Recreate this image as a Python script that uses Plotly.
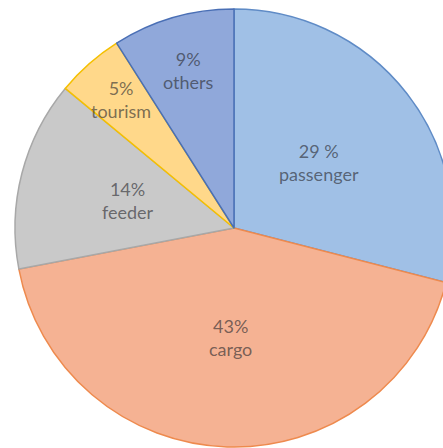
import math
import plotly.graph_objects as go

categories = ["passenger", "cargo", "feeder", "tourism", "others"]
values = [29, 43, 14, 5, 9]
pct_labels = ["29 %", "43%", "14%", "5%", "9%"]

fill_colors = ["#A0C0E6", "#F5B293", "#C9C9C9", "#FFD88A", "#90A8DA"]
line_colors = ["#5F8BC6", "#EE8A4E", "#A8A8A8", "#F5C000", "#4A6FB5"]
label_radius = [0.49, 0.50, 0.50, 0.78, 0.75]  # fraction of pie radius

W, H = 460, 448
cx, cy, R = 234, 228, 219

fig = go.Figure(go.Pie(
    labels=categories,
    values=values,
    textinfo="none",
    sort=False,
    direction="clockwise",
    rotation=0,
    marker=dict(colors=fill_colors, line=dict(color=line_colors, width=1.5)),
    hoverinfo="none",
    showlegend=False,
    domain=dict(x=[(cx - R) / W, (cx + R) / W],
                y=[(H - cy - R) / H, (H - cy + R) / H]),
))

# label placement derived from the slice mid-angles
total = sum(values)
cum = 0
annotations = []
for cat, v, p, rf in zip(categories, values, pct_labels, label_radius):
    mid = (cum + v / 2) / total * 2 * math.pi
    cum += v
    px = cx + rf * R * math.sin(mid)
    py = cy - rf * R * math.cos(mid)
    annotations.append(dict(
        x=px / W, y=1 - py / H, xref="paper", yref="paper",
        text=f"{p}<br>{cat}", showarrow=False,
        xanchor="center", yanchor="middle", align="center",
        font=dict(family="Lato, Open Sans, sans-serif", size=18, color="rgba(40,40,45,0.62)"),
    ))

fig.update_layout(
    width=W, height=H,
    margin=dict(l=0, r=0, t=0, b=0),
    paper_bgcolor="white",
    showlegend=False,
    annotations=annotations,
)

fig.write_html("out.html", include_plotlyjs=True,
               config={"displayModeBar": False},
               post_script="document.body.style.overflow='hidden';document.documentElement.style.overflow='hidden';")
